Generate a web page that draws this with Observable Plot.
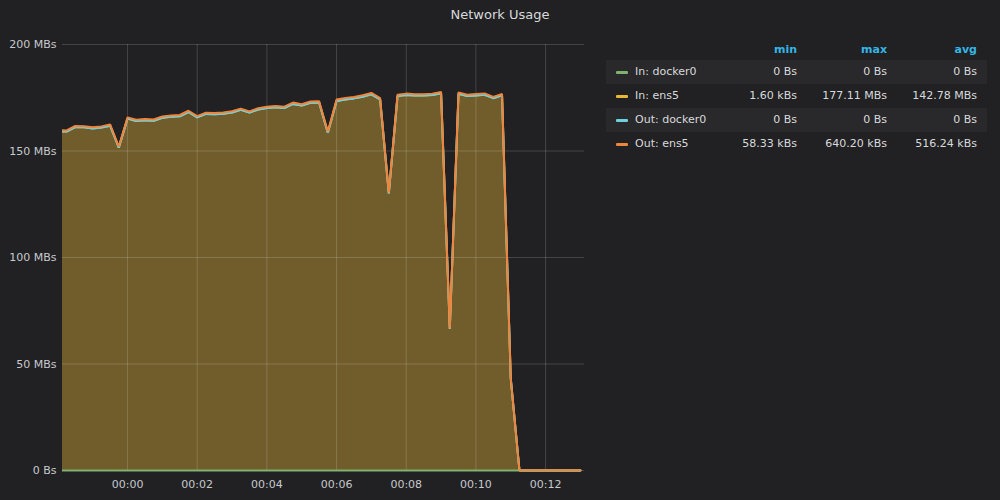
<!DOCTYPE html>
<html>
<head>
<meta charset="utf-8">
<script src="https://cdn.jsdelivr.net/npm/d3@7"></script>
<script src="https://cdn.jsdelivr.net/npm/@observablehq/plot@0.6"></script>
<style>
  html, body { margin: 0; padding: 0; background: #212124; }
  #wrap { position: relative; width: 1000px; height: 500px; background: #212124; font-family: "DejaVu Sans", sans-serif; overflow: hidden; }
  #title { position: absolute; left: 0; width: 1000px; top: 7px; text-align: center; font-size: 13px; color: #d8d9da; }
  #chart { position: absolute; left: 0; top: 0; }
  #legend { position: absolute; left: 606px; top: 39px; width: 381px; font-size: 11px; color: #d8d9da; }
  .row { position: relative; height: 24px; }
  .row.odd { background: #29292c; }
  .cell { position: absolute; top: 0; line-height: 24px; text-align: right; white-space: nowrap; }
  .hdr { color: #33b5e5; font-weight: bold; }
  .sw { position: absolute; left: 10px; top: 11px; width: 12px; height: 3px; border-radius: 1px; }
  .name { position: absolute; left: 29px; top: 0; line-height: 24px; white-space: nowrap; }
</style>
</head>
<body>
<div id="wrap">
  <div id="chart"></div>
  <div id="title">Network Usage</div>
  <div id="legend"></div>
</div>
<script>
// ---- data ----
// samples every 15 s starting at 23:58:00 (UTC); values in MB/s
const startTime = "2024-01-01T23:58:00Z";
const stepSeconds = 15;

const inDocker0 = [0,0,0,0,0,0,0,0,0,0,0,0,0,0,0,0,0,0,0,0,0,0,0,0,0,0,0,0,0,0,0,0,0,0,0,0,0,0,0,0,0,0,0,0,0,0,0,0,0,0,0,0,0,0,0,0,0,0,0,0,0];
const inEns5 = [159.3, 159.1, 161.2, 161.1, 160.6, 161.0, 161.9, 151.6, 165.2, 164.1, 164.4, 164.2, 165.6, 166.1, 166.3, 168.3, 165.8, 167.4, 167.2, 167.5, 168.1, 169.3, 168.0, 169.5, 170.2, 170.5, 170.2, 172.1, 171.3, 172.6, 172.7, 158.6, 173.5, 174.2, 174.7, 175.5, 176.6, 174.2, 130.1, 175.8, 176.3, 176.0, 176.0, 176.3, 177.11, 66.5, 176.9, 175.8, 176.1, 176.4, 174.8, 176.1, 43.2, 0.0016, 0.0021, 0.0018, 0.0024, 0.0019, 0.0017, 0.0022, 0.0020];
const outDocker0 = [0,0,0,0,0,0,0,0,0,0,0,0,0,0,0,0,0,0,0,0,0,0,0,0,0,0,0,0,0,0,0,0,0,0,0,0,0,0,0,0,0,0,0,0,0,0,0,0,0,0,0,0,0,0,0,0,0,0,0,0,0];
// kB/s
const outEns5kB = [548, 552, 561, 558, 555, 560, 566, 512, 583, 575, 578, 574, 588, 590, 592, 604, 586, 597, 595, 598, 601, 611, 602, 612, 617, 620, 618, 629, 624, 633, 634, 548, 637, 631, 635, 638, 640.2, 629, 452, 636, 638, 635, 634, 637, 639, 238, 636, 632, 634, 636, 628, 633, 171, 58.33, 61, 63, 59, 62, 60, 64, 61];

const seriesNames = ["In: docker0", "In: ens5", "Out: docker0", "Out: ens5"];
const seriesColors = ["#7EB26D", "#EAB839", "#6ED0E0", "#EF843C"];
const minLabels = ["0 Bs", "1.60 kBs", "0 Bs", "58.33 kBs"];
const maxLabels = ["0 Bs", "177.11 MBs", "0 Bs", "640.20 kBs"];
const avgLabels = ["0 Bs", "142.78 MBs", "0 Bs", "516.24 kBs"];

const yTicks = [0, 50, 100, 150, 200];
const yTickLabels = ["0 Bs", "50 MBs", "100 MBs", "150 MBs", "200 MBs"];
const xTickLabels = ["00:00", "00:02", "00:04", "00:06", "00:08", "00:10", "00:12"];
const xDomain = ["2024-01-01T23:58:08Z", "2024-01-02T00:13:07Z"];

// ---- build stacked table ----
const t0 = new Date(startTime).getTime();
const data = inEns5.map((v, i) => {
  const s1 = inDocker0[i];
  const s2 = s1 + v;
  const s3 = s2 + outDocker0[i];
  const s4 = s3 + outEns5kB[i] / 1000;
  return { time: new Date(t0 + i * stepSeconds * 1000), s0: 0, s1, s2, s3, s4 };
});
const xTicks = xTickLabels.map(l => new Date("2024-01-02T" + l + ":00Z"));

const lineOpts = (key, color) => ({ x: "time", y: key, stroke: color, strokeWidth: 2, clip: true, strokeLinejoin: "miter" });

const plot = Plot.plot({
  width: 600,
  height: 500,
  marginLeft: 62,
  marginRight: 16,
  marginTop: 44,
  marginBottom: 30,
  style: { background: "transparent", color: "#c7c9cc", fontFamily: "DejaVu Sans, sans-serif", fontSize: "11px" },
  x: { type: "utc", domain: xDomain.map(d => new Date(d)) },
  y: { domain: [0, 200] },
  marks: [
    Plot.areaY(data, { x: "time", y1: "s1", y2: "s2", fill: seriesColors[1], fillOpacity: 0.4, clip: true }),
    Plot.areaY(data, { x: "time", y1: "s3", y2: "s4", fill: seriesColors[3], fillOpacity: 0.4, clip: true }),
    Plot.gridX(xTicks, { stroke: "#ffffff", strokeOpacity: 0.16, strokeWidth: 1 }),
    Plot.gridY(yTicks, { stroke: "#ffffff", strokeOpacity: 0.16, strokeWidth: 1 }),
    Plot.lineY(data, lineOpts("s1", seriesColors[0])),
    Plot.lineY(data, lineOpts("s2", seriesColors[1])),
    Plot.lineY(data, lineOpts("s3", seriesColors[2])),
    Plot.lineY(data, lineOpts("s4", seriesColors[3])),
    Plot.axisY(yTicks, { tickSize: 0, tickPadding: 6, tickFormat: (d, i) => yTickLabels[i], label: null }),
    Plot.axisX(xTicks, { tickSize: 0, tickPadding: 10, tickFormat: (d, i) => xTickLabels[i], label: null })
  ]
});
// let the clip only trim horizontally, so lines at 0 keep their full width
plot.querySelectorAll("clipPath rect").forEach(r => {
  const y = +r.getAttribute("y"), h = +r.getAttribute("height");
  r.setAttribute("y", y - 4);
  r.setAttribute("height", h + 8);
});
document.getElementById("chart").appendChild(plot);

// ---- legend table ----
const legend = document.getElementById("legend");
const colRight = [191, 281, 371]; // right edges within legend box
function addRow(cls, name, color, vals, header) {
  const r = document.createElement("div");
  r.className = "row " + cls;
  if (color) {
    const sw = document.createElement("div");
    sw.className = "sw"; sw.style.background = color; r.appendChild(sw);
    const n = document.createElement("div");
    n.className = "name"; n.textContent = name; r.appendChild(n);
  }
  vals.forEach((v, j) => {
    const c = document.createElement("div");
    c.className = "cell" + (header ? " hdr" : "");
    c.style.right = (381 - colRight[j]) + "px";
    c.textContent = v;
    r.appendChild(c);
  });
  legend.appendChild(r);
}
addRow("head", "", null, ["min", "max", "avg"], true);
legend.lastChild.style.height = "21px";
legend.lastChild.querySelectorAll(".cell").forEach(c => c.style.lineHeight = "22px");
seriesNames.forEach((n, i) => addRow(i % 2 === 0 ? "odd" : "even", n, seriesColors[i], [minLabels[i], maxLabels[i], avgLabels[i]], false));
</script>
</body>
</html>
